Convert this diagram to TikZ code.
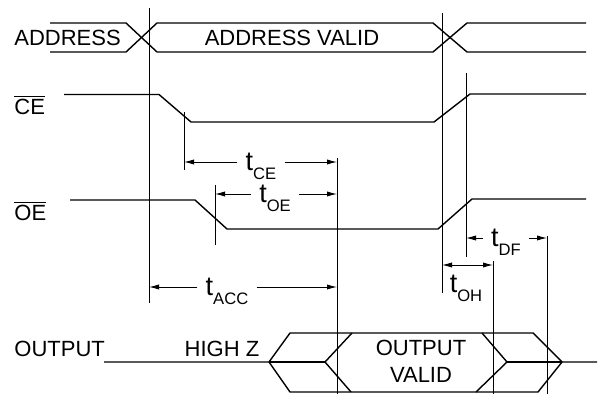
\documentclass[tikz,border=0pt]{standalone}
\usepackage{fontspec}
\setmainfont{Liberation Sans}
\usetikzlibrary{arrows.meta}

\newcommand{\tsig}[1]{{\fontsize{13.5}{14}\selectfont t}\smash{\raisebox{-4.5pt}{\fontsize{8.3}{9}\selectfont #1}}}

\begin{document}
\begin{tikzpicture}[x=0.5pt, y=-0.5pt, font=\fontsize{11}{13.5}\selectfont,
    sig/.style={line width=0.7pt},
    guide/.style={line width=0.45pt},
    dim/.style={line width=0.45pt, -{Latex[length=5pt,width=2.6pt]}},
    dimb/.style={line width=0.45pt, {Latex[length=5pt,width=2.6pt]}-{Latex[length=5pt,width=2.6pt]}},
    lbl/.style={anchor=west, inner sep=0pt},
    tlbl/.style={inner xsep=4pt, inner ysep=0pt}]
\useasboundingbox (0,0) rectangle (598,394);

% signal names
\node[lbl] (addr) at (14,37.5)  {ADDRESS};
\node[lbl] (ce)   at (14,105)   {$\overline{\mbox{CE}}$};
\node[lbl] (oe)   at (14,211)   {$\overline{\mbox{OE}}$};
\node[lbl] (out)  at (14,348.5) {OUTPUT};

% waveforms
\draw[sig] (50,23) -- (126,23) -- (157,52) -- (433,52) -- (467,23) -- (586,23);
\draw[sig] (50,52) -- (126,52) -- (157,23) -- (433,23) -- (467,52) -- (586,52);
\node (valid) at (292,37.5) {ADDRESS VALID};

\draw[sig] (64,94.5) -- (159,94.5) -- (191,122) -- (434,122) -- (470,94) -- (586,94);
\draw[sig] (70,200) -- (195,200) -- (227,229) -- (438,229) -- (472,199) -- (586,199);

\draw[sig] (104,362) -- (269,362) -- (290,333) -- (533,333) -- (562,362) -- (597,362);
\draw[sig] (269,362) -- (290,392) -- (538,392) -- (562,362);
\draw[sig] (269,362) -- (325,362);
\draw[sig] (352,333) -- (325,362) -- (351,392);
\draw[sig] (482,333) -- (507,362) -- (476,392);
\draw[sig] (507,362) -- (562,362);
\node (hiz)  at (222,349) {HIGH Z};
\node[align=center] (ovalid) at (421,361) {OUTPUT\\VALID};

% timing marks
\foreach \x/\ya/\yb in {149/8/303, 442/13/293, 184/112/170, 215/185/245,
                        337/158/394, 466/73/257, 493/261/394, 547/236/394}
  \draw[guide] (\x,\ya) -- (\x,\yb);

\coordinate (ce1)  at (184,162);
\coordinate (ce2)  at (337,162);
\coordinate (oe1)  at (215,194);
\coordinate (oe2)  at (337,194);
\coordinate (acc1) at (149,287);
\coordinate (acc2) at (337,287);
\coordinate (df1)  at (466,238);
\coordinate (df2)  at (547,238);
\coordinate (oh1)  at (442,265);
\coordinate (oh2)  at (493,265);

\node[tlbl] (tce)  at (261,162)   {\tsig{CE}};
\node[tlbl] (toe)  at (275,194)   {\tsig{OE}};
\node[tlbl] (tacc) at (227,287)   {\tsig{ACC}};
\node[tlbl] (tdf)  at (506,238)   {\tsig{DF}};
\node[tlbl] (toh)  at (466,284)   {\tsig{OH}};

\path[dim]
    (tce)   edge (ce1)
            edge (ce2)
    (toe)   edge (oe1)
            edge (oe2)
    (tacc)  edge (acc1)
            edge (acc2)
    (tdf)   edge (df1)
            edge (df2);
\draw[dimb] (oh1) -- (oh2);
\end{tikzpicture}
\end{document}
